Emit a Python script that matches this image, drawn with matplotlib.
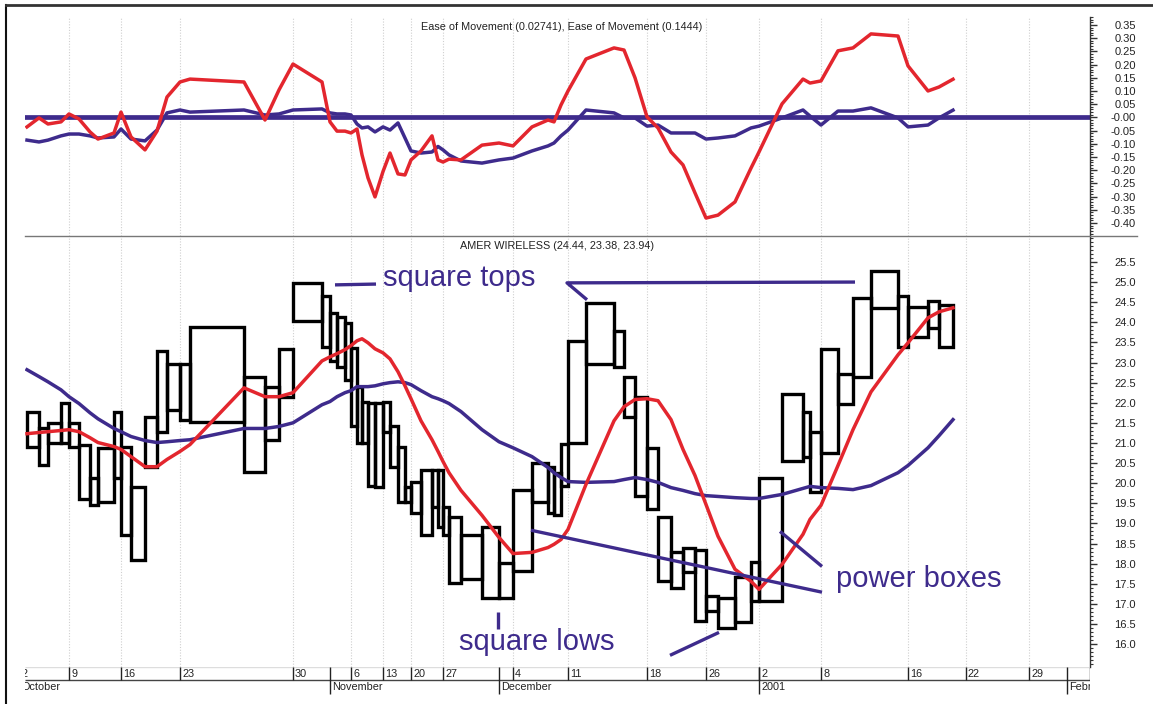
import numpy as np
import matplotlib
matplotlib.use("Agg")
import matplotlib.pyplot as plt
from matplotlib.ticker import MultipleLocator
from matplotlib.lines import Line2D

plt.rcParams['font.family'] = ['Liberation Sans', 'DejaVu Sans']

# equivolume boxes: width = volume, height = high - low
volume = [12, 9, 13, 8, 10, 11, 8, 16, 7, 10,
          14, 12, 10, 13, 10, 54, 21, 14, 14, 29,
          8, 7, 8, 6, 6, 5, 6, 7, 8, 7,
          8, 7, 6, 10, 11, 6, 5, 6, 12, 21,
          17, 14, 19, 16, 6, 7, 7, 18, 28, 10,
          11, 12, 11, 13, 12, 12, 11, 12, 17, 16,
          8, 23, 21, 7, 11, 17, 15, 18, 27, 10,
          20, 11, 14]
high = [21.78, 21.38, 21.50, 22.00, 21.50, 20.96, 20.14, 20.88, 21.78, 20.90,
        19.90, 21.65, 23.29, 22.97, 22.97, 23.89, 22.65, 22.40, 23.34, 24.98,
        24.66, 24.23, 24.14, 23.99, 23.37, 22.40, 22.03, 22.00, 22.00, 22.03,
        21.41, 20.91, 19.90, 20.02, 20.34, 20.34, 20.34, 19.40, 19.15, 18.70,
        18.90, 18.01, 19.84, 20.51, 20.39, 20.26, 20.98, 23.54, 24.48, 23.79,
        22.65, 22.15, 20.88, 19.15, 18.28, 18.40, 18.33, 17.19, 17.14, 17.66,
        18.03, 20.14, 22.22, 21.78, 21.26, 23.34, 22.72, 24.61, 25.28, 24.66,
        24.38, 24.53, 24.44]
low = [20.91, 20.46, 21.00, 21.00, 20.90, 19.60, 19.45, 19.52, 20.14, 18.70,
       18.08, 20.41, 21.26, 21.83, 21.58, 21.53, 20.29, 21.08, 22.15, 24.04,
       23.39, 23.04, 22.90, 22.57, 21.41, 21.00, 21.00, 19.92, 19.90, 21.26,
       20.41, 19.52, 19.52, 19.27, 18.70, 19.40, 18.92, 18.70, 17.53, 17.63,
       17.14, 17.14, 17.81, 19.52, 19.27, 19.20, 19.94, 21.00, 22.97, 22.90,
       21.65, 19.69, 19.35, 17.58, 17.39, 17.78, 16.57, 16.82, 16.39, 16.54,
       17.06, 17.06, 20.54, 20.66, 19.77, 20.76, 21.98, 22.65, 24.36, 23.39,
       23.64, 23.86, 23.38]

# moving averages (one value per box edge)
ma_fast = [21.23, 21.26, 21.28, 21.31, 21.33, 21.28, 21.13, 21.01, 20.91, 20.84,
           20.66, 20.41, 20.41, 20.59, 20.79, 20.96, 22.37, 22.15, 22.15, 22.25,
           23.04, 23.14, 23.22, 23.32, 23.42, 23.54, 23.59, 23.49, 23.34, 23.24,
           23.09, 22.77, 22.42, 22.10, 21.55, 21.08, 20.79, 20.54, 20.26, 19.82,
           19.20, 18.65, 18.25, 18.28, 18.40, 18.48, 18.60, 18.85, 19.97, 21.55,
           21.90, 22.08, 22.10, 22.05, 21.58, 20.84, 20.19, 19.47, 18.68, 17.86,
           17.56, 17.36, 17.98, 18.73, 19.10, 19.45, 20.44, 21.33, 22.27, 23.19,
           23.49, 24.11, 24.26, 24.36]
ma_slow = [22.82, 22.65, 22.52, 22.32, 22.15, 21.98, 21.75, 21.60, 21.36, 21.28,
           21.16, 21.06, 21.01, 21.03, 21.06, 21.08, 21.36, 21.36, 21.41, 21.50,
           21.95, 22.03, 22.15, 22.25, 22.30, 22.40, 22.40, 22.40, 22.42, 22.47,
           22.50, 22.52, 22.50, 22.45, 22.30, 22.15, 22.10, 22.05, 21.98, 21.78,
           21.33, 21.03, 20.88, 20.66, 20.39, 20.26, 20.14, 20.04, 20.02, 20.04,
           20.09, 20.14, 20.09, 20.02, 19.89, 19.82, 19.74, 19.69, 19.67, 19.64,
           19.62, 19.62, 19.72, 19.87, 19.92, 19.89, 19.87, 19.84, 19.94, 20.26,
           20.44, 20.88, 21.18, 21.58]

# ease of movement
emv_fast = [-0.036, -0.002, -0.025, -0.017, 0.013, -0.006, -0.055, -0.082, -0.059, 0.020,
            -0.074, -0.123, -0.052, 0.077, 0.134, 0.145, 0.134, -0.010, 0.104, 0.202,
            0.134, -0.017, -0.052, -0.052, -0.059, -0.044, -0.142, -0.229, -0.301, -0.205,
            -0.135, -0.214, -0.218, -0.161, -0.127, -0.070, -0.161, -0.169, -0.158, -0.161,
            -0.105, -0.097, -0.108, -0.036, -0.010, -0.017, 0.047, 0.100, 0.221, 0.263,
            0.255, 0.150, 0.002, -0.040, -0.131, -0.180, -0.286, -0.381, -0.370, -0.320,
            -0.192, -0.131, 0.051, 0.145, 0.130, 0.138, 0.252, 0.263, 0.316, 0.308,
            0.195, 0.100, 0.115, 0.1444]
emv_slow = [-0.086, -0.093, -0.086, -0.070, -0.063, -0.063, -0.070, -0.078, -0.074, -0.044,
            -0.082, -0.089, -0.048, 0.017, 0.028, 0.020, 0.028, 0.009, 0.013, 0.028,
            0.032, 0.017, 0.013, 0.013, 0.009, -0.025, -0.040, -0.036, -0.055, -0.036,
            -0.048, -0.021, -0.078, -0.127, -0.135, -0.131, -0.110, -0.123, -0.142, -0.165,
            -0.173, -0.161, -0.154, -0.127, -0.108, -0.097, -0.070, -0.048, 0.028, 0.017,
            -0.002, -0.002, -0.033, -0.029, -0.059, -0.059, -0.059, -0.082, -0.078, -0.070,
            -0.040, -0.033, -0.002, 0.028, 0.005, -0.029, 0.024, 0.024, 0.036, -0.002,
            -0.036, -0.029, -0.002, 0.02741]

# date axis: (label, box index) and (label, trading days after the last box)
week_ticks = [("9", 4), ("16", 9), ("23", 14), ("30", 19), ("6", 24), ("13", 29),
              ("20", 33), ("27", 37), ("4", 42), ("11", 47), ("18", 52), ("26", 57),
              ("2", 61), ("8", 65), ("16", 70)]
week_future = [("22", 1), ("29", 6)]
month_ticks = [("November", 21), ("December", 41), ("2001", 61)]
month_future = [("Febr", 9)]

emv_ticks = [0.35, 0.30, 0.25, 0.20, 0.15, 0.10, 0.05, 0.0, -0.05, -0.10,
             -0.15, -0.20, -0.25, -0.30, -0.35, -0.40]
emv_labels = ["0.35", "0.30", "0.25", "0.20", "0.15", "0.10", "0.05", "-0.00", "-0.05",
              "-0.10", "-0.15", "-0.20", "-0.25", "-0.30", "-0.35", "-0.40"]
price_ticks = np.arange(16.0, 25.51, 0.5)

RED = '#e3262e'
PURPLE = '#3e2b8c'
GRID = '#cfcfcf'

W, H = 1153, 704
fig = plt.figure(figsize=(W / 100, H / 100), dpi=100)


def rect(l, t, r, b):
    return [l / W, 1 - b / H, (r - l) / W, (b - t) / H]


ax_top = fig.add_axes(rect(25, 17, 1090, 236))
ax_bot = fig.add_axes(rect(25, 236, 1090, 667))
ax_date = fig.add_axes(rect(25, 667, 1090, 700))

edges = np.concatenate([[0.0], np.cumsum(volume)])
end = edges[-1]
avg = end / len(volume)
x_min, x_max = -2, end + 10.8 * avg

week_x = [edges[i] for _, i in week_ticks] + [end + k * avg for _, k in week_future]
week_lab = [s for s, _ in week_ticks] + [s for s, _ in week_future]
month_x = [edges[i] for _, i in month_ticks] + [end + k * avg for _, k in month_future]
month_lab = [s for s, _ in month_ticks] + [s for s, _ in month_future]
first_x = edges[0] - 0.6 * avg   # Oct 2, just left of the visible range


def style_axis(ax, ylim, ticks, labels, minor):
    ax.set_xlim(x_min, x_max)
    ax.set_ylim(*ylim)
    for s in ['top', 'left', 'bottom']:
        ax.spines[s].set_visible(False)
    ax.spines['right'].set_color('#333333')
    ax.spines['right'].set_linewidth(1)
    ax.set_xticks([])
    ax.yaxis.tick_right()
    ax.set_yticks(ticks)
    ax.set_yticklabels(labels)
    ax.yaxis.set_minor_locator(MultipleLocator(minor))
    ax.tick_params(axis='y', which='major', length=5, width=1, pad=28,
                   labelsize=8, colors='#333333', labelcolor='#222222')
    ax.tick_params(axis='y', which='minor', length=2.5, width=0.8, colors='#333333')
    plt.setp(ax.get_yticklabels(), ha='right')
    for x in week_x:
        ax.axvline(x, color=GRID, lw=0.8, ls=(0, (1, 1.5)), zorder=0)


# top panel: ease of movement
style_axis(ax_top, (-0.449, 0.380), emv_ticks, emv_labels, 0.01)
ax_top.axhline(0, color=PURPLE, lw=3.4, zorder=2)
ax_top.plot(edges, emv_slow, color=PURPLE, lw=2.5, zorder=3)
ax_top.plot(edges, emv_fast, color=RED, lw=2.5, zorder=4)
ax_top.text(0.504, 0.954, "Ease of Movement (0.02741), Ease of Movement (0.1444)",
            transform=ax_top.transAxes, ha='center', va='center', fontsize=7.8,
            color='#222222')

# bottom panel: equivolume boxes
style_axis(ax_bot, (15.43, 26.145), price_ticks, [f"{v:.1f}" for v in price_ticks], 0.1)
ax_bot.bar(edges[:-1], np.array(high) - np.array(low), width=volume, bottom=low,
           align='edge', fill=False, edgecolor='black', linewidth=2.4, zorder=2)
ax_bot.plot(edges, ma_slow, color=PURPLE, lw=2.5, zorder=3)
ax_bot.plot(edges, ma_fast, color=RED, lw=2.5, zorder=4)
ax_bot.text(0.4995, 0.977, "AMER WIRELESS (24.44, 23.38, 23.94)",
            transform=ax_bot.transAxes, ha='center', va='center', fontsize=7.8,
            color='#222222')

# hand drawn annotations
ann_lines = [([308, 349], [24.93, 24.95]),
             ([560, 540, 828], [24.56, 24.98, 25.00]),
             ([471, 471], [16.79, 16.37]),
             ([643, 692], [15.72, 16.29]),
             ([504, 795], [18.83, 17.29]),
             ([753, 795], [18.80, 17.93])]
ann_text = [("square tops", 432, 25.10), ("square lows", 510, 16.05),
            ("power boxes", 892, 17.61)]
for xs, ys in ann_lines:
    ax_bot.plot(xs, ys, color=PURPLE, lw=2.4, zorder=5, solid_capstyle='butt')
for s, x, y in ann_text:
    ax_bot.text(x, y, s, color=PURPLE, fontsize=21, ha='center', va='center', zorder=5)

# date strip
ax_date.set_xlim(x_min, x_max)
ax_date.set_ylim(0, 1)
ax_date.axis('off')
ax_date.hlines(0.985, x_min, x_max, color='#dddddd', lw=1)
ax_date.hlines(0.606, x_min, x_max, color='#444444', lw=1)
ax_date.vlines(x_max, 0.606, 1, color='#333333', lw=1)
for x, s in zip([first_x] + week_x, ["2"] + week_lab):
    ax_date.vlines(x, 0.606, 1, color='#222222', lw=1)
    ax_date.text(x + 2, 0.80, s, fontsize=7.8, ha='left', va='center',
                 color='#222222', clip_on=True)
for x, s in zip([first_x] + month_x, ["October"] + month_lab):
    ax_date.vlines(x, 0.18, 1, color='#222222', lw=1)
    ax_date.text(x + 2, 0.39, s, fontsize=7.8, ha='left', va='center',
                 color='#222222', clip_on=True)

# outer frame and panel separator
fig.add_artist(Line2D([6 / W, 6 / W], [0, 1 - 5 / H], color='#111111', lw=1.5))
fig.add_artist(Line2D([6 / W, 1], [1 - 5 / H, 1 - 5 / H], color='#333333', lw=2))
fig.add_artist(Line2D([25 / W, 1137 / W], [1 - 236 / H, 1 - 236 / H], color='#777777', lw=1))

fig.savefig("out.png", dpi=100)
